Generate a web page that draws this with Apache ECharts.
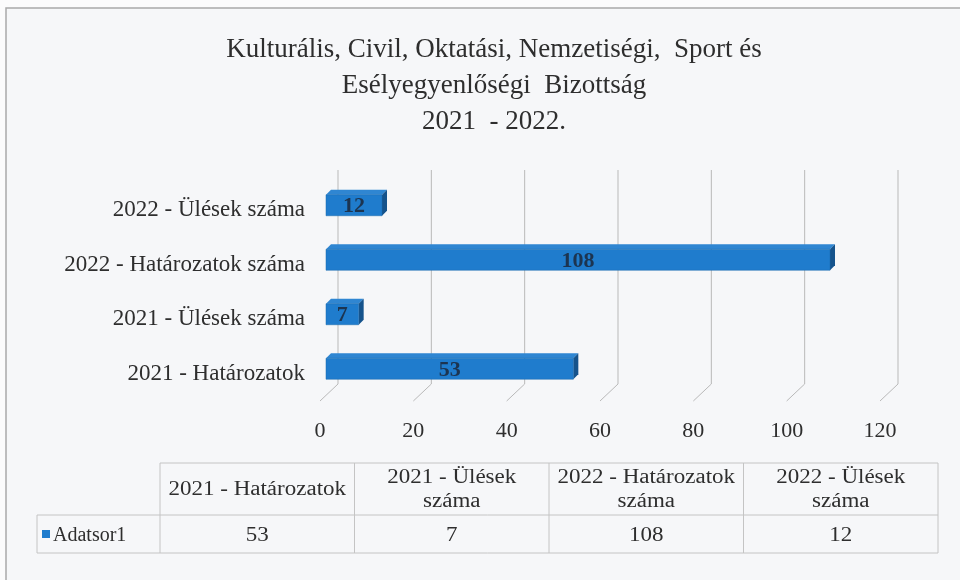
<!DOCTYPE html>
<html>
<head>
<meta charset="utf-8">
<script src="https://cdn.jsdelivr.net/npm/echarts@6/dist/echarts.min.js"></script>
<style>
  html, body { margin: 0; padding: 0; background: #fbfbfc; }
  #chart { width: 960px; height: 580px; }
</style>
</head>
<body>
<div id="chart"></div>
<script>
// adatok
var categories = ['2021 - Határozatok', '2021 - Ülések száma', '2022 - Határozatok száma', '2022 - Ülések száma'];
var values = [53, 7, 108, 12];
var tableHeaders = ['2021 - Határozatok', '2021 - Ülések\nszáma', '2022 - Határozatok\nszáma', '2022 - Ülések\nszáma'];
var xTicks = [0, 20, 40, 60, 80, 100, 120];
var seriesName = 'Adatsor1';

var serif = '"Liberation Serif", "DejaVu Serif", serif';
var textColor = '#2e2e2e';
var lineColor = '#c4c4c4';

// 3D oszlop: elülső lap, teteje, oldala
function renderBar(params, api) {
    var base = api.coord([0, api.value(1)]);
    var end = api.coord([api.value(0), api.value(1)]);
    var d = 5, h = 21;
    var x0 = base[0] + 6, x1 = end[0] + 6;
    var yc = base[1] - 5;
    var y0 = yc - h / 2, y1 = yc + h / 2;
    return {
        type: 'group',
        children: [
            { type: 'polygon', shape: { points: [[x0, y0], [x1, y0], [x1 + d, y0 - d], [x0 + d, y0 - d]] },
              style: { fill: '#2f86d2' } },
            { type: 'polygon', shape: { points: [[x1, y0], [x1 + d, y0 - d], [x1 + d, y1 - d], [x1, y1]] },
              style: { fill: '#15538c' } },
            { type: 'rect', shape: { x: x0, y: y0, width: x1 - x0, height: h },
              style: { fill: '#1f7ccd', stroke: '#1a68ad', lineWidth: 0.5 } },
            { type: 'text', x: (x0 + x1) / 2, y: yc + 2, scaleX: 1.1,
              style: { text: String(api.value(0)), x: 0, y: 0,
              align: 'center', verticalAlign: 'middle', font: 'bold 20px ' + serif, fill: '#1c3450' } }
        ]
    };
}

// hátsó rácsvonalak a padló átlóival
function renderGrid(params, api) {
    var cs = params.coordSys;
    var x = api.coord([api.value(0), 0])[0];
    var bottom = cs.y + cs.height;
    return {
        type: 'polyline',
        shape: { points: [[x, bottom], [x + 18, bottom - 17], [x + 18, cs.y - 13]] },
        style: { stroke: '#b9b9b9', lineWidth: 1, fill: null }
    };
}

// adattábla
var graphics = [
    { type: 'rect', shape: { x: 6, y: 8, width: 980, height: 600 },
      style: { fill: '#f6f7f9', stroke: '#a9a9a9', lineWidth: 1.5 }, z: -10 }
];
var colX = [160, 354.5, 549, 743.5, 938];
var rowY = [463, 515, 553];
var cellFont = '20px ' + serif;
var cells = [];
for (var i = 0; i < categories.length; i++) {
    var cx = (colX[i] + colX[i + 1]) / 2;
    cells.push({ type: 'text', x: cx, y: (rowY[0] + rowY[1]) / 2 + 1, scaleX: 1.15,
        style: { text: tableHeaders[i], x: 0, y: 0,
        align: 'center', verticalAlign: 'middle', font: cellFont, fill: textColor, lineHeight: 24 } });
    cells.push({ type: 'text', x: cx, y: (rowY[1] + rowY[2]) / 2 + 2, scaleX: 1.15,
        style: { text: String(values[i]), x: 0, y: 0,
        align: 'center', verticalAlign: 'middle', font: cellFont, fill: textColor } });
    cells.push({ type: 'line', shape: { x1: colX[i + 1], y1: rowY[0], x2: colX[i + 1], y2: rowY[2] },
        style: { stroke: lineColor, lineWidth: 1 } });
}
cells.push({ type: 'line', shape: { x1: colX[0], y1: rowY[0], x2: colX[0], y2: rowY[2] }, style: { stroke: lineColor } });
cells.push({ type: 'line', shape: { x1: colX[0], y1: rowY[0], x2: colX[4], y2: rowY[0] }, style: { stroke: lineColor } });
cells.push({ type: 'line', shape: { x1: 37, y1: rowY[1], x2: colX[4], y2: rowY[1] }, style: { stroke: lineColor } });
cells.push({ type: 'line', shape: { x1: 37, y1: rowY[2], x2: colX[4], y2: rowY[2] }, style: { stroke: lineColor } });
cells.push({ type: 'line', shape: { x1: 37, y1: rowY[1], x2: 37, y2: rowY[2] }, style: { stroke: lineColor } });
// jelmagyarázat a táblában
cells.push({ type: 'rect', shape: { x: 42, y: 530, width: 8, height: 8 }, style: { fill: '#1f7ccd' } });
cells.push({ type: 'text', x: 53, y: 536,
    style: { text: seriesName, x: 0, y: 0, align: 'left', verticalAlign: 'middle', font: cellFont, fill: textColor } });
graphics = graphics.concat(cells);

var option = {
    backgroundColor: '#fbfbfc',
    animation: false,
    title: {
        text: 'Kulturális, Civil, Oktatási, Nemzetiségi,  Sport és\nEsélyegyenlőségi  Bizottság\n2021  - 2022.',
        left: 489,
        top: 27,
        textAlign: 'center',
        textStyle: { fontFamily: serif, fontSize: 27, fontWeight: 'normal', color: textColor, lineHeight: 36 }
    },
    grid: { left: 320, right: 80, top: 183, bottom: 179 },
    xAxis: {
        type: 'value',
        min: 0,
        max: 120,
        interval: 20,
        axisLine: { show: false },
        axisTick: { show: false },
        splitLine: { show: false },
        axisLabel: { fontFamily: serif, fontSize: 22, color: textColor, margin: 19 }
    },
    yAxis: {
        type: 'category',
        data: categories,
        axisLine: { show: false },
        axisTick: { show: false },
        axisLabel: { fontFamily: serif, fontSize: 23, color: textColor, margin: 15 }
    },
    series: [
        {
            type: 'custom',
            silent: true,
            z: 1,
            renderItem: renderGrid,
            encode: { x: 0 },
            data: xTicks.map(function (t) { return [t]; })
        },
        {
            name: seriesName,
            type: 'custom',
            z: 2,
            itemStyle: { color: '#1f7ccd' },
            renderItem: renderBar,
            encode: { x: 0, y: 1 },
            data: values.map(function (v, i) { return [v, i]; })
        }
    ],
    graphic: graphics
};

var myChart = echarts.init(document.getElementById('chart'));
myChart.setOption(option);
</script>
</body>
</html>
